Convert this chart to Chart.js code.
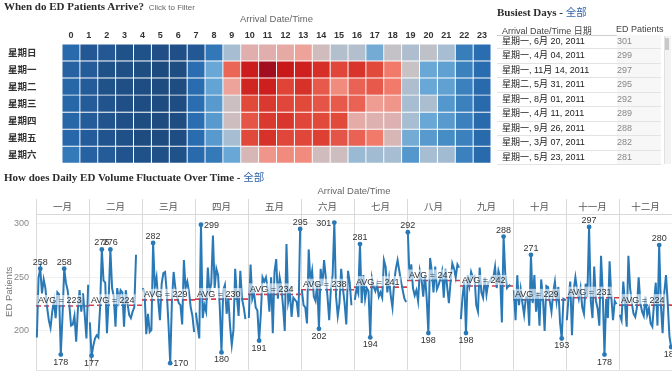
<!DOCTYPE html>
<html><head><meta charset="utf-8">
<script src="https://cdn.jsdelivr.net/npm/chart.js@4.4.1/dist/chart.umd.min.js"></script>
<style>
html,body{margin:0;padding:0;width:672px;height:375px;overflow:hidden;background:#fff;font-family:"Liberation Sans","Noto Sans CJK SC",sans-serif;}
.abs{position:absolute;white-space:nowrap;}
.ttl{font-family:"Liberation Serif","Noto Sans CJK SC",serif;font-weight:bold;font-size:11px;color:#2b2b2b;line-height:12px;}
.blue{color:#3465a8;font-family:"Noto Sans CJK SC",sans-serif;font-weight:normal;font-size:10.5px;}
.row{position:absolute;left:497px;width:164px;border-bottom:1px solid #e3e3e3;font-size:9px;}
.c1{position:absolute;left:5px;color:#222;}
.c2{position:absolute;left:120px;color:#888;width:44px;height:100%;background:#f7f7f7;}
</style></head>
<body>
<canvas id="heat" class="abs" style="left:0;top:0;" width="494" height="169"></canvas>
<div style="position:absolute;left:0;top:183px;width:672px;height:192px;overflow:hidden;">
<canvas id="line" style="position:absolute;left:0;top:0;" width="690" height="199"></canvas>
</div>
<div class="abs ttl" style="left:4px;top:0px;">When do ED Patients Arrive? <span style="font-family:'Liberation Sans';font-weight:normal;font-size:8px;color:#666;margin-left:2px;">Click to Filter</span></div>
<div class="abs ttl" style="left:497px;top:6px;">Busiest Days - <span class="blue">全部</span></div>
<div class="abs ttl" style="left:4px;top:171px;">How does Daily ED Volume Fluctuate Over Time - <span class="blue">全部</span></div>
<div id="tbl"></div>
<script>
// ---------- Heatmap data ----------
const hours = ['0','1','2','3','4','5','6','7','8','9','10','11','12','13','14','15','16','17','18','19','20','21','22','23'];
const days = ['星期日','星期一','星期二','星期三','星期四','星期五','星期六'];
const heatSun = [6.0,5.0,5.0,4.5,4.5,4.3,4.3,5.0,6.5,9.0,11.0,11.0,11.3,11.8,10.2,9.3,9.3,8.2,9.7,9.2,9.6,9.0,6.7,6.2];
const heatMon = [5.6,5.2,4.5,4.3,4.0,3.8,4.0,6.2,8.0,13.5,16.0,17.2,16.2,15.8,15.2,14.3,15.0,14.2,13.0,9.8,8.0,7.8,6.8,6.1];
const heatTue = [5.8,5.2,4.5,4.3,4.1,3.9,4.0,6.1,7.9,11.8,15.6,15.9,14.4,15.1,13.8,12.5,13.6,13.8,13.0,9.2,8.0,7.8,6.8,6.0];
const heatWed = [5.8,5.2,4.6,4.3,4.1,3.9,4.1,6.2,7.6,10.0,14.2,14.8,14.3,14.2,13.9,13.8,13.6,12.0,12.2,9.0,9.1,7.5,6.8,6.0];
const heatThu = [5.8,5.2,4.6,4.3,4.0,3.9,4.0,6.2,7.6,10.1,13.9,14.8,14.9,14.3,14.2,14.2,11.2,10.8,10.8,9.0,8.0,7.6,6.8,6.0];
const heatFri = [5.9,5.3,4.7,4.4,3.9,3.9,4.1,6.1,7.6,9.0,14.2,15.1,14.3,14.3,14.6,13.9,13.6,13.0,10.5,8.2,7.6,7.2,6.8,6.0];
const heatSat = [6.6,5.6,5.2,4.7,4.5,4.4,4.5,6.0,6.6,8.0,10.5,12.2,12.5,12.5,10.2,10.1,8.8,8.9,9.0,7.5,9.0,8.9,6.8,6.0];
const heatRows = [heatSun,heatMon,heatTue,heatWed,heatThu,heatFri,heatSat];

// ---------- Busiest days table ----------
const busyDates = ['星期一, 6月 20, 2011','星期一, 4月 04, 2011','星期一, 11月 14, 2011','星期二, 5月 31, 2011','星期一, 8月 01, 2011','星期一, 4月 11, 2011','星期一, 9月 26, 2011','星期一, 3月 07, 2011','星期一, 5月 23, 2011'];
const busyCounts = [301,299,297,295,292,289,288,282,281];

// ---------- Daily volume data ----------
const months = ['一月','二月','三月','四月','五月','六月','七月','八月','九月','十月','十一月','十二月'];
const jan = [194,250,258,235,248,240,222,210,203,218,228,212,236,234,178,214,258,245,238,224,205,206,214,190,220,238,218,235,215,193,243];
const feb = [208,177,186,193,196,194,222,276,247,245,198,230,276,240,232,204,240,228,238,236,204,238,226,215,212,218,222,271];
const mar = [240,236,197,216,199,201,282,241,250,228,210,244,254,255,236,206,170,228,255,240,232,226,224,206,266,240,246,236,222,214,199];
const apr = [217,205,193,299,212,224,218,259,236,244,289,240,258,252,222,180,238,243,216,230,205,187,201,258,232,214,256,230,222,211];
const may = [212,262,230,236,222,219,191,216,250,246,250,240,218,250,198,255,267,230,250,241,223,200,281,227,236,213,231,229,227,213,295];
const jun = [238,224,222,207,276,246,256,232,228,245,202,258,242,266,250,232,210,240,252,301,232,214,226,258,240,226,206,256,245,224];
const jul = [229,240,235,281,226,252,230,240,237,194,249,241,237,244,232,236,231,266,260,236,249,233,222,246,258,266,256,246,238,230,227];
const aug = [292,248,262,240,233,238,228,256,248,232,252,231,198,268,256,236,260,239,243,249,256,231,258,241,226,246,263,258,250,262,259];
const sep = [211,232,246,198,252,242,255,250,251,224,218,259,236,231,250,234,245,246,250,250,260,240,256,250,208,288,252,240,242,243];
const oct = [238,210,252,224,239,226,215,231,232,205,271,226,252,218,236,205,248,231,200,242,241,228,218,236,246,228,241,208,193,230,229];
const nov = [210,232,246,196,238,250,238,230,240,222,216,244,232,297,228,212,260,228,221,205,270,235,178,230,212,265,232,210,228,225];
const dec = [215,210,246,226,204,270,240,226,216,213,222,250,226,218,214,232,215,221,207,204,226,245,205,280,224,198,236,252,226,195,185];
const monthly = [jan,feb,mar,apr,may,jun,jul,aug,sep,oct,nov,dec];
const yTicks = [200,250,300];

// ---------- styles ----------
const SANS = '"Liberation Sans","Noto Sans CJK SC",sans-serif';
const heatStops = [[3.2,'#1b4677'],[4.3,'#1f4f86'],[5.3,'#245c9b'],[6.2,'#2a6eb1'],[7.0,'#3f87c1'],[8.0,'#68a7d6'],[9.0,'#a6bdd2'],[9.8,'#c8c2c5'],[10.8,'#ddb1b0'],[11.8,'#eea39a'],[13.0,'#f17a6a'],[14.2,'#e1493b'],[15.2,'#d62f27'],[16.2,'#c8181a'],[17.2,'#a20d1f']];
function hex2rgb(h){return [1,3,5].map(i=>parseInt(h.substr(i,2),16));}
function heatColor(v){
  if(v<=heatStops[0][0]) return heatStops[0][1];
  for(let i=1;i<heatStops.length;i++){
    if(v<=heatStops[i][0]){
      const [a,ca]=heatStops[i-1],[b,cb]=heatStops[i];
      const t=(v-a)/(b-a), A=hex2rgb(ca), B=hex2rgb(cb);
      return 'rgb('+A.map((c,k)=>Math.round(c+(B[k]-c)*t)).join(',')+')';
    }
  }
  return heatStops[heatStops.length-1][1];
}

// ---------- table ----------
(function(){
  const t=document.getElementById('tbl');
  let h='<div class="abs" style="left:502px;top:24px;font-size:9px;color:#444;">Arrival Date/Time 日期</div>'+
        '<div class="abs" style="left:616px;top:24px;font-size:9px;color:#444;">ED Patients</div>'+
        '<div class="abs" style="left:497px;top:35px;width:164px;border-top:1px solid #cfcfcf;"></div>';
  busyDates.forEach((d,i)=>{
    const top=35+i*14.45;
    h+='<div class="row" style="top:'+top.toFixed(2)+'px;height:13.45px;line-height:13.45px;"><span class="c1">'+d+'</span><span class="c2">'+busyCounts[i]+'</span></div>';
  });
  h+='<div class="abs" style="left:664px;top:36px;width:6px;height:128px;background:#f3f3f3;border-left:1px solid #e0e0e0;"></div>';
  h+='<div class="abs" style="left:665px;top:38px;width:4px;height:12px;background:#c8c8c8;"></div>';
  t.innerHTML=h;
})();

// ---------- heatmap chart ----------
new Chart(document.getElementById('heat'),{
  type:'bar',
  data:{labels:days,datasets:hours.map((h,hi)=>({
    label:h,
    data:days.map(()=>1),
    backgroundColor:heatRows.map(r=>heatColor(r[hi])),
    borderColor:'#ffffff',borderWidth:0.8,borderSkipped:false,
    barPercentage:1,categoryPercentage:1
  }))},
  options:{
    indexAxis:'y',responsive:false,animation:false,
    layout:{padding:{left:8,right:3,top:0,bottom:0}},
    plugins:{legend:{display:false},tooltip:{enabled:false}},
    scales:{
      x:{type:'linear',position:'top',stacked:true,min:0,max:24,
        grid:{display:false,drawTicks:false},border:{display:false},
        title:{display:true,text:'Arrival Date/Time',color:'#666',font:{size:9.5,family:SANS},padding:{top:14,bottom:0}},
        ticks:{color:'#333',font:{size:9,weight:'bold',family:SANS},padding:3,maxRotation:0,autoSkip:false,
          callback:(v)=>hours[Math.floor(v)]},
        afterBuildTicks:(a)=>{a.ticks=hours.map((h,i)=>({value:i+0.5}));},
        afterFit:(a)=>{a.height=44;}
      },
      y:{stacked:true,grid:{display:false,drawTicks:false},border:{display:false},
        ticks:{crossAlign:'far',color:'#333',font:{size:9.5,weight:'bold',family:'"Noto Sans CJK SC",sans-serif'},padding:0},
        afterFit:(a)=>{a.width=54;}
      }
    }
  }
});

// ---------- line chart ----------
const avgs = monthly.map(a=>a.reduce((s,v)=>s+v,0)/a.length);
const lineSets = monthly.map((arr,m)=>{
  const mx=Math.max(...arr), mn=Math.min(...arr);
  return {type:'line',data:arr.map((v,i)=>({x:m+(i+0.5)/31,y:v})),
    borderColor:'#2a79b7',backgroundColor:'#2a79b7',borderWidth:2,tension:0,
    pointRadius:(c)=>{const v=c.raw&&c.raw.y;return (v===mx||v===mn)?2.4:0;},
    pointBorderWidth:0,clip:false};
});
const avgSets = avgs.map((a,m)=>({type:'line',data:[{x:m,y:a},{x:m+1,y:a}],
  borderColor:'#da3b45',borderWidth:1.6,borderDash:[5,3],pointRadius:0,clip:false}));

const decor = {
  id:'decor',
  beforeDatasetsDraw(chart){
    const {ctx,chartArea,scales:{x}}=chart;
    ctx.save();
    ctx.strokeStyle='#d9d9d9';ctx.lineWidth=1;
    for(let m=0;m<=12;m++){
      const px=Math.round(x.getPixelForValue(m))+0.5;
      ctx.beginPath();ctx.moveTo(px,16);ctx.lineTo(px,chartArea.bottom);ctx.stroke();
    }
    ctx.beginPath();ctx.moveTo(chartArea.left,Math.round(chartArea.top)+0.5);ctx.lineTo(chartArea.right,Math.round(chartArea.top)+0.5);ctx.stroke();
    ctx.strokeStyle='#e4e4e4';
    ctx.beginPath();ctx.moveTo(chartArea.left,Math.round(chartArea.bottom)+0.5);ctx.lineTo(chartArea.right,Math.round(chartArea.bottom)+0.5);ctx.stroke();
    ctx.restore();
  },
  afterDatasetsDraw(chart){
    const {ctx,chartArea,scales:{x,y}}=chart;
    ctx.save();
    ctx.font='9px '+SANS;
    monthly.forEach((arr,m)=>{
      const mx=Math.max(...arr), mn=Math.min(...arr);
      const left=x.getPixelForValue(m), right=x.getPixelForValue(m+1);
      arr.forEach((v,i)=>{
        const px=x.getPixelForValue(m+(i+0.5)/31), py=y.getPixelForValue(v);
        ctx.fillStyle='#333';
        if(v===mx){
          if(py-12<chartArea.top){
            ctx.textBaseline='middle';
            if(right-px>=px-left){ctx.textAlign='left';ctx.fillText(String(v),px+3,py+1);}
            else{ctx.textAlign='right';ctx.fillText(String(v),px-3,py+1);}
          } else {ctx.textAlign='center';ctx.textBaseline='bottom';ctx.fillText(String(v),px,py-2);}
        } else if(v===mn){
          if(py+14>chartArea.bottom+4){ctx.textAlign='left';ctx.textBaseline='middle';ctx.fillText(String(v),px+3,py);}
          else {ctx.textAlign='center';ctx.textBaseline='top';ctx.fillText(String(v),px,py+3);}
        }
      });
      const txt='AVG = '+Math.round(avgs[m]);
      const ax=left+2, ay=y.getPixelForValue(avgs[m]);
      const w=ctx.measureText(txt).width;
      ctx.fillStyle='rgba(255,255,255,0.6)';
      ctx.fillRect(ax-1,ay-11,w+2,10);
      ctx.fillStyle='#333';ctx.textAlign='left';ctx.textBaseline='middle';
      ctx.fillText(txt,ax,ay-5);
    });
    ctx.restore();
  }
};

new Chart(document.getElementById('line'),{
  type:'line',
  data:{datasets:[...lineSets,...avgSets]},
  options:{
    responsive:false,animation:false,
    layout:{padding:{left:0,right:18,top:0,bottom:0}},
    plugins:{legend:{display:false},tooltip:{enabled:false}},
    scales:{
      x:{type:'linear',position:'top',min:0,max:12,
        grid:{display:false,drawTicks:false},border:{display:false},
        title:{display:true,text:'Arrival Date/Time',color:'#666',font:{size:9.5,family:SANS},padding:{top:3,bottom:0}},
        ticks:{color:'#555',font:{size:9.5,family:SANS},padding:1,maxRotation:0,autoSkip:false,
          callback:(v)=>months[Math.floor(v)]},
        afterBuildTicks:(a)=>{a.ticks=months.map((mm,i)=>({value:i+0.5}));},
        afterFit:(a)=>{a.height=31;}
      },
      y:{type:'linear',min:164,max:309,
        grid:{color:'#efefef',drawTicks:false},border:{display:false},
        title:{display:true,text:'ED Patients',color:'#777',font:{size:9.5,family:SANS},padding:{top:4,bottom:0}},
        ticks:{color:'#888',font:{size:9,family:SANS},padding:7},
        afterBuildTicks:(a)=>{a.ticks=yTicks.map(v=>({value:v}));},
        afterFit:(a)=>{a.width=36;}
      }
    }
  },
  plugins:[decor]
});
</script>
</body></html>
